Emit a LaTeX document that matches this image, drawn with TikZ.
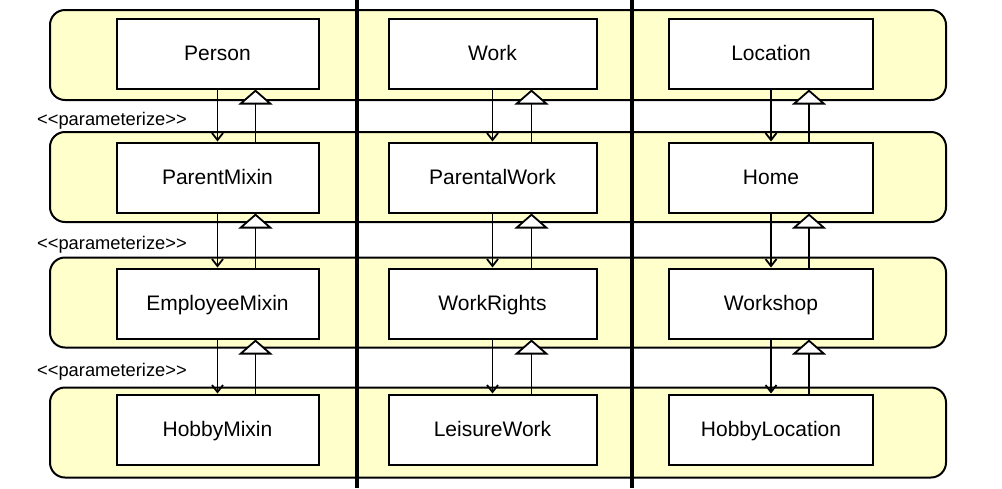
\documentclass[tikz,border=0pt]{standalone}
\usepackage{fontspec}
\setmainfont{Liberation Sans}
\usetikzlibrary{positioning,arrows.meta}
\definecolor{bandyellow}{HTML}{FFFFCC}
\tikzset{
band/.style={
  draw=black, line width=2pt, fill=bandyellow,
  rounded corners=15pt, minimum width=896pt, minimum height=90pt
  },
cls/.style={
  draw=black, line width=2pt, fill=white,
  minimum width=202pt, minimum height=70pt,
  font=\fontsize{21}{25}\selectfont, inner sep=0pt,
  text height=15pt, text depth=2pt
  },
stereo/.style={
  anchor=west, inner sep=0pt, font=\fontsize{18.3}{22}\selectfont
  },
param/.style={
  line width=1.8pt, -{Straight Barb[length=7pt,width=11pt]}
  },
inherit/.style={
  line width=1.8pt, -{Triangle[length=15pt,width=34pt,fill=white]}
  },
separator/.style={line width=3.5pt}
}

\begin{document}
\begin{tikzpicture}[x=1pt,y=-1pt]
\useasboundingbox (0,0) rectangle (1002,488);

% bands
\node[band] (band1) at (498,55) {};
\node[band] (band2) at (498,177) {};
\node[band] (band3) at (498,302.5) {};
\node[band] (band4) at (498,432.5) {};

% column separators
\coordinate (sepAtop) at (357,0);
\coordinate (sepAbot) at (357,488);
\coordinate (sepBtop) at (632,0);
\coordinate (sepBbot) at (632,488);
\draw[separator] (sepAtop) -- (sepAbot);
\draw[separator] (sepBtop) -- (sepBbot);

% column 1
\node[cls] (Person) at (217.5,53.5) {Person};
\node[cls, below=52pt of Person] (ParentMixin) {ParentMixin};
\node[cls, below=54pt of ParentMixin] (EmployeeMixin) {EmployeeMixin};
\node[cls, below=54pt of EmployeeMixin] (HobbyMixin) {HobbyMixin};

% column 2
\node[cls, minimum width=208pt] (Work) at (492.5,53.5) {Work};
\node[cls, minimum width=208pt, below=52pt of Work] (ParentalWork) {ParentalWork};
\node[cls, minimum width=208pt, below=54pt of ParentalWork] (WorkRights) {WorkRights};
\node[cls, minimum width=208pt, below=54pt of WorkRights] (LeisureWork) {LeisureWork};

% column 3
\node[cls, minimum width=204pt] (Location) at (771,53.5) {Location};
\node[cls, minimum width=204pt, below=52pt of Location] (Home) {Home};
\node[cls, minimum width=204pt, below=54pt of Home] (Workshop) {Workshop};
\node[cls, minimum width=204pt, below=54pt of Workshop] (HobbyLocation) {HobbyLocation};

% stereotypes
\node[stereo] (param1) at (37,121) {<{}<parameterize>{}>};
\node[stereo] (param2) at (37,245) {<{}<parameterize>{}>};
\node[stereo] (param3) at (37,372) {<{}<parameterize>{}>};

% parameterize links
\draw[param] (Person.south) -- (ParentMixin.north);
\draw[param] (ParentMixin.south) -- (EmployeeMixin.north);
\draw[param] (EmployeeMixin.south) -- (HobbyMixin.north);
\draw[param] (Work.south) -- (ParentalWork.north);
\draw[param] (ParentalWork.south) -- (WorkRights.north);
\draw[param] (WorkRights.south) -- (LeisureWork.north);
\draw[param] (Location.south) -- (Home.north);
\draw[param] (Home.south) -- (Workshop.north);
\draw[param] (Workshop.south) -- (HobbyLocation.north);

% inheritance
\draw[inherit] ([xshift=38pt]ParentMixin.north) -- ([xshift=38pt]Person.south);
\draw[inherit] ([xshift=38pt]EmployeeMixin.north) -- ([xshift=38pt]ParentMixin.south);
\draw[inherit] ([xshift=38pt]HobbyMixin.north) -- ([xshift=38pt]EmployeeMixin.south);
\draw[inherit] ([xshift=39pt]ParentalWork.north) -- ([xshift=39pt]Work.south);
\draw[inherit] ([xshift=39pt]WorkRights.north) -- ([xshift=39pt]ParentalWork.south);
\draw[inherit] ([xshift=39pt]LeisureWork.north) -- ([xshift=39pt]WorkRights.south);
\draw[inherit] ([xshift=38pt]Home.north) -- ([xshift=38pt]Location.south);
\draw[inherit] ([xshift=38pt]Workshop.north) -- ([xshift=38pt]Home.south);
\draw[inherit] ([xshift=38pt]HobbyLocation.north) -- ([xshift=38pt]Workshop.south);

\end{tikzpicture}
\end{document}
